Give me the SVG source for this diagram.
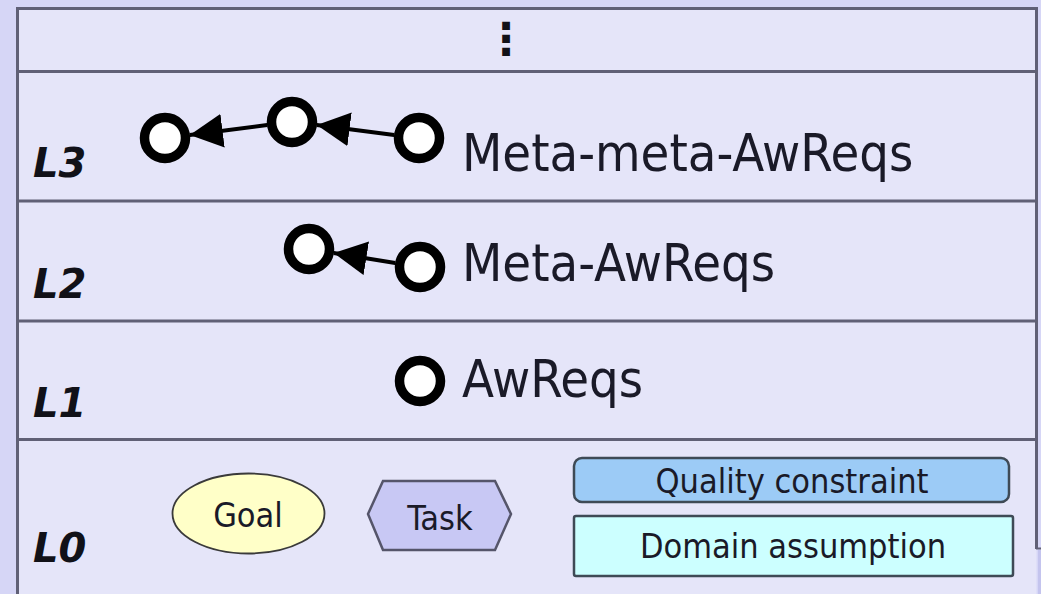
<svg xmlns="http://www.w3.org/2000/svg" width="1041" height="594" viewBox="0 0 1041 594">
  <defs>
    <style>
      .sep { stroke: #606076; stroke-width: 3; fill: none; }
      .lvl { font-family: "DejaVu Sans", "Liberation Sans", sans-serif; font-weight: bold; font-style: italic; font-size: 40px; fill: #111118; }
      .big { font-family: "DejaVu Sans Condensed", "DejaVu Sans", sans-serif; font-stretch: condensed; font-size: 52px; fill: #1a1a28; }
      .sm { font-family: "DejaVu Sans Condensed", "DejaVu Sans", sans-serif; font-stretch: condensed; font-size: 34px; fill: #1a1a28; text-anchor: middle; }
      .req { fill: #ffffff; stroke: #000000; stroke-width: 9.5; }
      .conn { stroke: #000000; stroke-width: 4; fill: none; marker-end: url(#ah); }
    </style>
    <marker id="ah" markerUnits="userSpaceOnUse" markerWidth="33" markerHeight="34" refX="33" refY="17" orient="auto" viewBox="0 0 33 34">
      <path d="M0,0 L33,17 L0,34 Z" fill="#000000"/>
    </marker>
  </defs>

  <!-- page background -->
  <rect x="0" y="0" width="1041" height="594" fill="#d6d6f6"/>

  <!-- outer frame -->
  <g id="frame">
    <rect x="17.5" y="8.5" width="1019" height="600" fill="#e5e5f9"/>
    <line class="sep" x1="17.5" y1="7" x2="17.5" y2="594"/>
    <line class="sep" x1="16" y1="8.5" x2="1038" y2="8.5"/>
    <line class="sep" x1="1036.5" y1="7" x2="1036.5" y2="549"/>
    <line x1="1036" y1="548.5" x2="1041" y2="548.5" stroke="#606076" stroke-width="2"/>
    <rect x="1038" y="550" width="3" height="44" fill="#c4c4ee"/>
  </g>

  <!-- level separators -->
  <g id="separators">
    <line class="sep" x1="17.5" y1="71.5" x2="1036.5" y2="71.5"/>
    <line class="sep" x1="17.5" y1="201" x2="1036.5" y2="201"/>
    <line class="sep" x1="17.5" y1="321" x2="1036.5" y2="321"/>
    <line class="sep" x1="17.5" y1="439.5" x2="1036.5" y2="439.5"/>
  </g>

  <!-- level labels -->
  <g id="levels">
    <text class="lvl" x="33" y="177">L3</text>
    <text class="lvl" x="33" y="298">L2</text>
    <text class="lvl" x="33" y="417">L1</text>
    <text class="lvl" x="33" y="562">L0</text>
  </g>

  <g id="ellipsis">
    <text x="506" y="54" font-family="DejaVu Sans, sans-serif" font-size="44" font-weight="bold" text-anchor="middle" fill="#111118">⋮</text>
  </g>

  <!-- connectors -->
  <g id="connectors">
    <line class="conn" x1="394.2" y1="134.9" x2="316.8" y2="125.1"/>
    <line class="conn" x1="267.2" y1="125.1" x2="189.8" y2="134.9"/>
    <line class="conn" x1="395.3" y1="263" x2="333.7" y2="253"/>
  </g>

  <!-- L3 nodes -->
  <g id="l3-req1"><circle class="req" cx="165" cy="138" r="20.5"/></g>
  <g id="l3-req2"><circle class="req" cx="292" cy="122" r="20.5"/></g>
  <g id="l3-req3"><circle class="req" cx="419" cy="138" r="20.5"/></g>
  <g id="l3-label"><text class="big" x="462" y="171">Meta-meta-AwReqs</text></g>

  <!-- L2 nodes -->
  <g id="l2-req1"><circle class="req" cx="309" cy="249" r="20.5"/></g>
  <g id="l2-req2"><circle class="req" cx="420" cy="267" r="20.5"/></g>
  <g id="l2-label"><text class="big" x="462" y="281">Meta-AwReqs</text></g>

  <!-- L1 node -->
  <g id="l1-req"><circle class="req" cx="420" cy="381" r="20.5"/></g>
  <g id="l1-label"><text class="big" x="462" y="397">AwReqs</text></g>

  <!-- L0 nodes -->
  <g id="goal">
    <ellipse cx="248.5" cy="513.5" rx="76" ry="40" fill="#ffffc8" stroke="#3a3a3a" stroke-width="1.8"/>
    <text class="sm" x="248" y="527">Goal</text>
  </g>
  <g id="task">
    <polygon points="368,514 383,481 495,481 511,514 495,550 383,550" fill="#c8c8f4" stroke="#55556a" stroke-width="2.5"/>
    <text class="sm" x="440" y="530">Task</text>
  </g>
  <g id="quality-constraint">
    <rect x="574" y="458" width="435" height="44" rx="8" ry="8" fill="#9ccbf6" stroke="#3e4a56" stroke-width="2.5"/>
    <text class="sm" x="792" y="493">Quality constraint</text>
  </g>
  <g id="domain-assumption">
    <rect x="574" y="516" width="439" height="60" rx="2" ry="2" fill="#ccffff" stroke="#3e4a56" stroke-width="2.5"/>
    <text class="sm" x="793" y="558">Domain assumption</text>
  </g>
</svg>
